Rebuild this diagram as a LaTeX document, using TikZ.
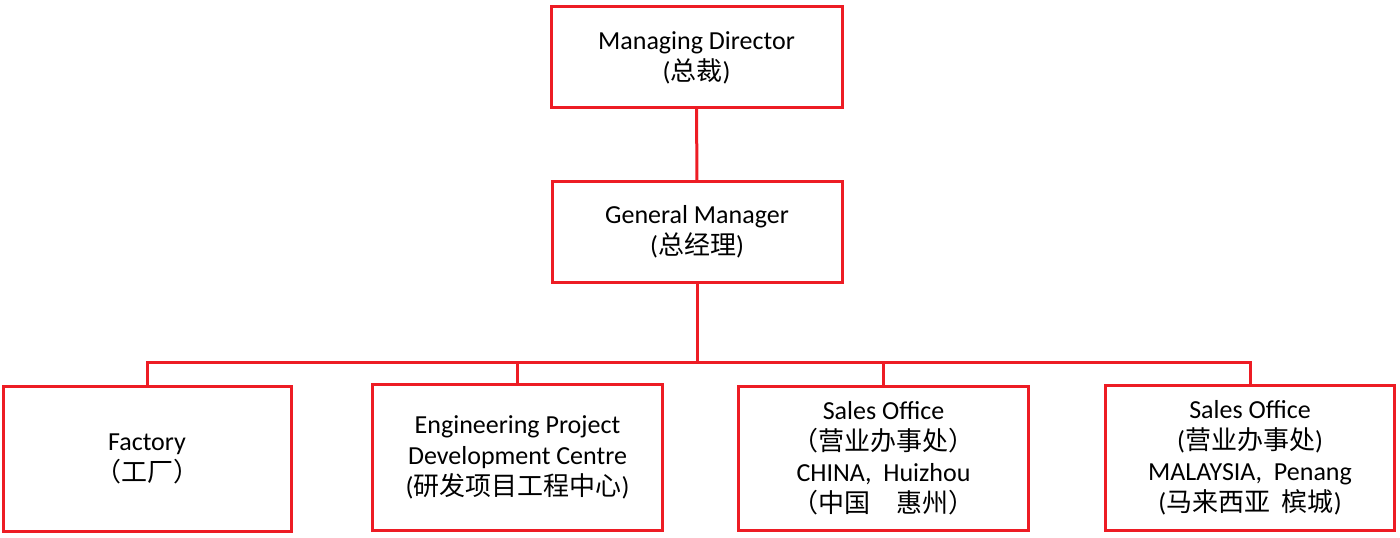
\documentclass[tikz,border=0pt]{standalone}
\usepackage{fontspec}
\setmainfont{Carlito}
\newfontfamily\cjk{Noto Sans CJK SC}
\newcommand\zh[1]{{\cjk #1}}
\definecolor{boxred}{RGB}{237,28,36}
\begin{document}
\begin{tikzpicture}[x=0.75pt,y=-0.75pt,
  orgbox/.style={draw=boxred,line width=2.25pt,rectangle,inner sep=0pt,outer sep=0pt,
    align=center,font=\fontsize{19.5pt}{23.25pt}\selectfont,text=black},
  conn/.style={draw=boxred,line width=2.25pt}]
\useasboundingbox (0,0) rectangle (1400,538);
\node[orgbox,minimum width=218.25pt,minimum height=75.75pt] (md) at (696.5,57.5)
  {Managing Director\\(\zh{总裁})};
\node[orgbox,minimum width=217.5pt,minimum height=75.75pt] (gm) at (697,232)
  {General Manager\\(\zh{总经理})};
\node[orgbox,minimum width=216pt,minimum height=108.4pt] (fac) at (147,459)
  {Factory\\\zh{（工厂）}};
\node[orgbox,minimum width=217.1pt,minimum height=108.75pt] (eng) at (517.5,457.5)
  {Engineering Project\\Development Centre\\(\zh{研发项目工程中心})};
\node[orgbox,minimum width=217.1pt,minimum height=108.4pt] (cn) at (883.5,458.5)
  {Sales Office\\\zh{（营业办事处）}\\CHINA,~~Huizhou\\\zh{（中国　惠州）}};
\node[orgbox,minimum width=217.1pt,minimum height=108pt] (my) at (1250,458)
  {Sales Office\\(\zh{营业办事处})\\MALAYSIA,~~Penang\\(\zh{马来西亚}~~\zh{槟城})};
\coordinate (bar) at (697,362.5);
\draw[conn] (md.south) -- (gm.north);
\draw[conn] (gm.south) -- (bar);
\foreach \n in {fac,eng,cn,my} {
  \draw[conn,line join=miter] (bar) -| (\n.north);
}
\end{tikzpicture}
\end{document}
